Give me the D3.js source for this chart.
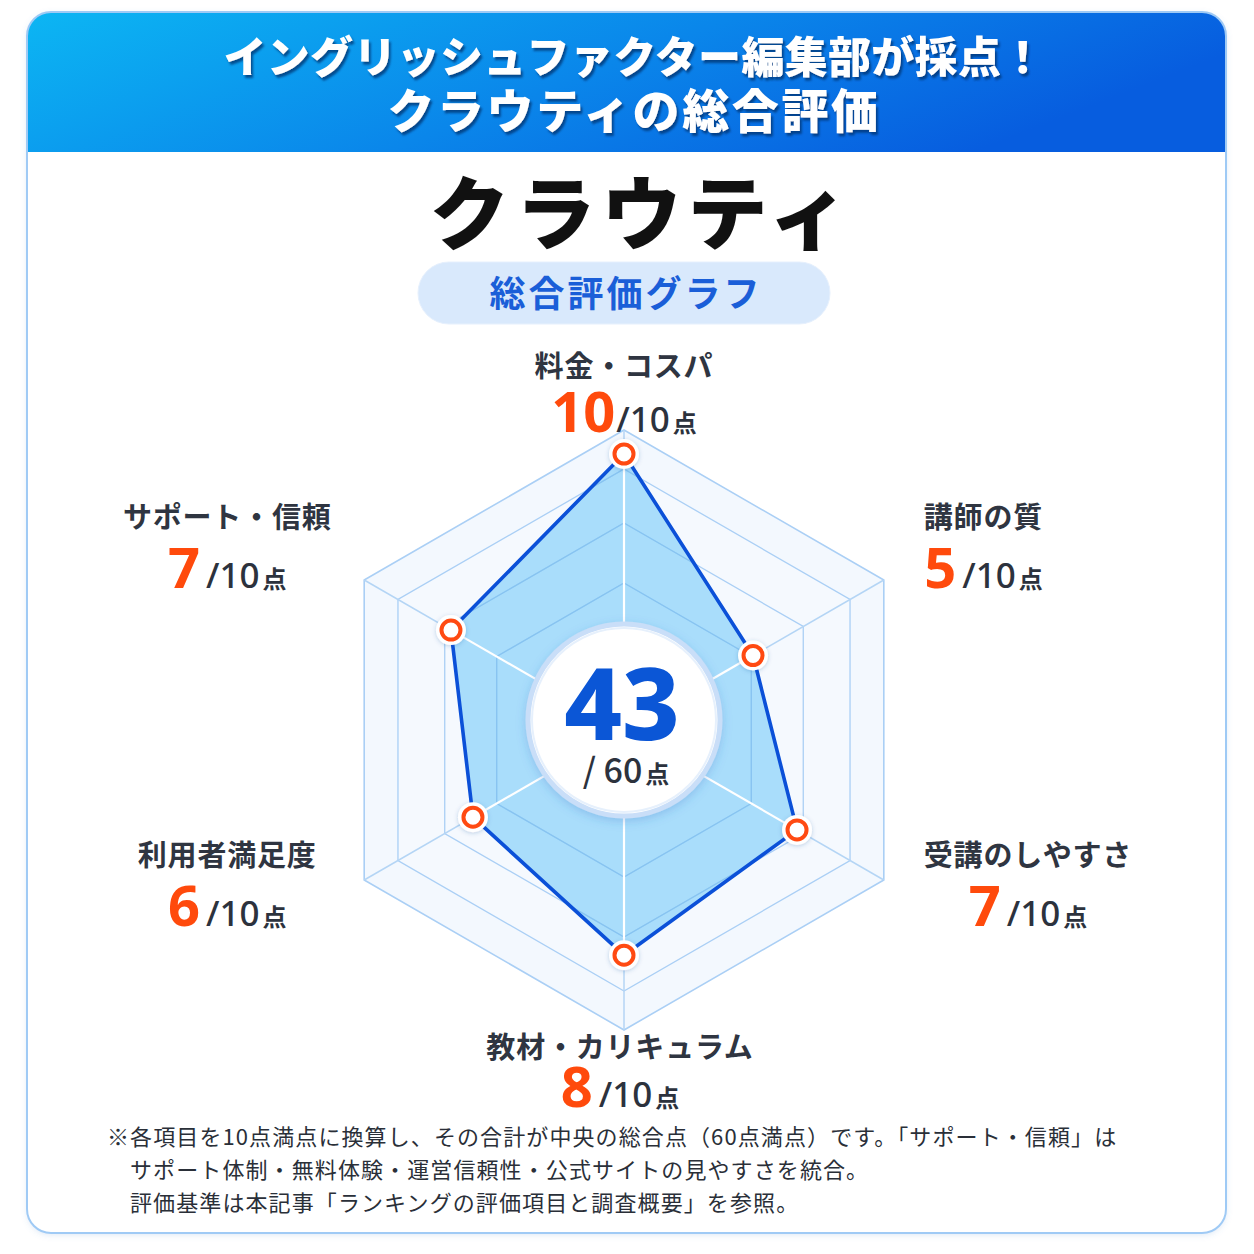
<!DOCTYPE html>
<html lang="ja">
<head>
<meta charset="utf-8">
<script src="https://cdn.jsdelivr.net/npm/d3@7"></script>
<style>
  html, body { margin: 0; padding: 0; background: #ffffff; }
  svg { display: block; font-family: "Noto Sans CJK JP", "Noto Sans", sans-serif; }
</style>
</head>
<body>
<svg id="chart" width="1254" height="1254"></svg>
<script>
// ---------- data ----------
const headerLines = ["イングリッシュファクター編集部が採点！", "クラウティの総合評価"];
const titleText = "クラウティ";
const subtitleText = "総合評価グラフ";
const categories = ["料金・コスパ", "講師の質", "受講のしやすさ", "教材・カリキュラム", "利用者満足度", "サポート・信頼"];
const scores = [10, 5, 7, 8, 6, 7];
const maxScore = 10;
const totalMax = 60;
const pointUnit = "点";
const footnotes = [
  "※各項目を10点満点に換算し、その合計が中央の総合点（60点満点）です。「サポート・信頼」は",
  "サポート体制・無料体験・運営信頼性・公式サイトの見やすさを統合。",
  "評価基準は本記事「ランキングの評価項目と調査概要」を参照。"
];

// ---------- layout ----------
const svg = d3.select("#chart");
const W = 1254;
const cx = 624, cy = 730, R = 300;
const total = d3.sum(scores);

const defs = svg.append("defs");
const hg = defs.append("linearGradient").attr("id", "hdr").attr("x1", 0).attr("y1", 0).attr("x2", 1).attr("y2", 0.3);
hg.append("stop").attr("offset", "0%").attr("stop-color", "#0cb6f3");
hg.append("stop").attr("offset", "55%").attr("stop-color", "#0a86ea");
hg.append("stop").attr("offset", "100%").attr("stop-color", "#075ddf");

const ts = defs.append("filter").attr("id", "tshadow").attr("x", "-10%").attr("y", "-30%").attr("width", "120%").attr("height", "160%");
ts.append("feDropShadow").attr("dx", 2).attr("dy", 3).attr("stdDeviation", 1.2).attr("flood-color", "#06306e").attr("flood-opacity", 0.75);

const cs = defs.append("filter").attr("id", "cshadow").attr("x", "-30%").attr("y", "-30%").attr("width", "160%").attr("height", "160%");
cs.append("feDropShadow").attr("dx", 0).attr("dy", 3).attr("stdDeviation", 5).attr("flood-color", "#2a6bc4").attr("flood-opacity", 0.25);

const ps = defs.append("filter").attr("id", "pshadow").attr("x", "-50%").attr("y", "-50%").attr("width", "200%").attr("height", "200%");
ps.append("feDropShadow").attr("dx", 0).attr("dy", 1).attr("stdDeviation", 2).attr("flood-color", "#1d4f9a").attr("flood-opacity", 0.25);

const cardS = defs.append("filter").attr("id", "cardshadow").attr("x", "-5%").attr("y", "-5%").attr("width", "110%").attr("height", "110%");
cardS.append("feDropShadow").attr("dx", 0).attr("dy", 2).attr("stdDeviation", 3).attr("flood-color", "#5a8fd0").attr("flood-opacity", 0.2);

// card
const cardX = 27, cardY = 12, cardW = 1199, cardH = 1221, cardR = 24, hdrH = 140;
svg.append("rect").attr("x", cardX).attr("y", cardY).attr("width", cardW).attr("height", cardH)
  .attr("rx", cardR).attr("fill", "#ffffff").attr("filter", "url(#cardshadow)");
const hdrPath = d3.path();
hdrPath.moveTo(cardX, cardY + hdrH);
hdrPath.lineTo(cardX, cardY + cardR);
hdrPath.arcTo(cardX, cardY, cardX + cardR, cardY, cardR);
hdrPath.lineTo(cardX + cardW - cardR, cardY);
hdrPath.arcTo(cardX + cardW, cardY, cardX + cardW, cardY + cardR, cardR);
hdrPath.lineTo(cardX + cardW, cardY + hdrH);
hdrPath.closePath();
svg.append("path").attr("d", hdrPath.toString()).attr("fill", "url(#hdr)");
svg.append("rect").attr("x", cardX).attr("y", cardY).attr("width", cardW).attr("height", cardH)
  .attr("rx", cardR).attr("fill", "none").attr("stroke", "#9fcaf5").attr("stroke-width", 2);

// header text
const hdrFont = [43, 47];
const hdrBase = [73, 128];
const hdrSpacing = [0.3, 2.6];
headerLines.forEach((t, i) => {
  svg.append("text").attr("x", W / 2 + 7).attr("y", hdrBase[i]).attr("text-anchor", "middle")
    .attr("font-size", hdrFont[i]).attr("font-weight", 900).attr("letter-spacing", hdrSpacing[i])
    .attr("fill", "#ffffff").attr("filter", "url(#tshadow)").text(t);
});

// title
svg.append("text").attr("x", 642).attr("y", 243).attr("text-anchor", "middle")
  .attr("font-size", 80).attr("font-weight", 900).attr("letter-spacing", 6)
  .attr("fill", "#111111").text(titleText);

// pill
svg.append("rect").attr("x", 418).attr("y", 262).attr("width", 412).attr("height", 62).attr("rx", 31)
  .attr("fill", "#d9e9fc").attr("stroke", "#e6f0fd").attr("stroke-width", 1);
svg.append("text").attr("x", 626).attr("y", 307).attr("text-anchor", "middle")
  .attr("font-size", 36).attr("font-weight", 700).attr("letter-spacing", 3)
  .attr("fill", "#1a5ed8").text(subtitleText);

// ---------- radar ----------
const n = categories.length;
const angle = d3.scaleLinear().domain([0, n]).range([0, 2 * Math.PI]);
const rScale = d3.scaleLinear().domain([0, maxScore]).range([22, 276]);
const pt = (i, r) => [cx + r * Math.sin(angle(i)), cy - r * Math.cos(angle(i))];
const ringFractions = [1, 0.87, 0.69, 0.49, 0.29];
const line = d3.line().curve(d3.curveLinearClosed);

const g = svg.append("g");
g.append("path").attr("d", line(d3.range(n).map(i => pt(i, R)))).attr("fill", "#f3f8fe");
g.append("path").attr("d", line(d3.range(n).map(i => pt(i, R * 0.87)))).attr("fill", "#f5f9fe");
ringFractions.forEach(f => {
  g.append("path").attr("d", line(d3.range(n).map(i => pt(i, R * f))))
    .attr("fill", "none").attr("stroke", "#aacff5").attr("stroke-width", f === 1 ? 1.6 : 1.3);
});
d3.range(n).forEach(i => {
  const [x, y] = pt(i, R);
  g.append("line").attr("x1", cx).attr("y1", cy).attr("x2", x).attr("y2", y)
    .attr("stroke", "#b4d5f5").attr("stroke-width", 1.5);
});
const dataPts = scores.map((v, i) => pt(i, rScale(v)));
g.append("path").attr("d", line(dataPts)).attr("fill", "#8fd3fa").attr("fill-opacity", 0.75);
const clip = defs.append("clipPath").attr("id", "dclip");
clip.append("path").attr("d", line(dataPts));
const inner = g.append("g").attr("clip-path", "url(#dclip)");
ringFractions.forEach(f => {
  inner.append("path").attr("d", line(d3.range(n).map(i => pt(i, R * f))))
    .attr("fill", "none").attr("stroke", "#88c3f0").attr("stroke-width", 1.2);
});
dataPts.forEach(([x, y]) => {
  g.append("line").attr("x1", cx).attr("y1", cy).attr("x2", x).attr("y2", y)
    .attr("stroke", "#ffffff").attr("stroke-width", 2.2);
});
g.append("path").attr("d", line(dataPts)).attr("fill", "none")
  .attr("stroke", "#0b50d8").attr("stroke-width", 3.6).attr("stroke-linejoin", "round");

dataPts.forEach(([x, y]) => {
  g.append("circle").attr("cx", x).attr("cy", y).attr("r", 15).attr("fill", "#ffffff").attr("filter", "url(#pshadow)");
  g.append("circle").attr("cx", x).attr("cy", y).attr("r", 9.5).attr("fill", "#ffffff")
    .attr("stroke", "#ff4a12").attr("stroke-width", 4);
});

// center circle
const ccY = 720;
g.append("circle").attr("cx", cx).attr("cy", ccY).attr("r", 96).attr("fill", "#ffffff")
  .attr("stroke", "#c9def8").attr("stroke-width", 5).attr("filter", "url(#cshadow)");
g.append("circle").attr("cx", cx).attr("cy", ccY).attr("r", 92).attr("fill", "none")
  .attr("stroke", "#e6f0fc").attr("stroke-width", 2);
g.append("text").attr("x", cx - 2).attr("y", 740).attr("text-anchor", "middle")
  .attr("font-family", "'Noto Sans', 'Open Sans', sans-serif")
  .attr("font-size", 100).attr("font-weight", 800)
  .attr("fill", "#0b56d6").text(total);
const sub = g.append("text").attr("x", cx + 2).attr("y", 783).attr("text-anchor", "middle")
  .attr("fill", "#2c323d");
sub.append("tspan").attr("font-size", 34).attr("font-weight", 500).text("/ " + totalMax);
sub.append("tspan").attr("font-size", 24).attr("font-weight", 700).attr("dx", 3).text(pointUnit);

// ---------- labels ----------
function scoreText(sel, v) {
  sel.append("tspan").attr("font-size", 56).attr("font-weight", 700).attr("fill", "#ff4a0c")
    .attr("font-family", "'Noto Sans', sans-serif").text(v);
  sel.append("tspan").attr("font-size", 35).attr("font-weight", 500).attr("fill", "#2c323d").attr("dx", v >= 10 ? 1 : 6)
    .attr("font-family", "'Noto Sans', sans-serif").text("/" + maxScore);
  sel.append("tspan").attr("font-size", 24).attr("font-weight", 700).attr("fill", "#2c323d").attr("dx", 3)
    .text(pointUnit);
}
categories.forEach((c, i) => {
  const [vx, vy] = pt(i, R);
  let lx, ly, sy, anchor = "middle";
  if (i === 0) { lx = cx; ly = vy - 53; sy = vy + 2; }
  else if (i === 3) { lx = cx - 4; ly = vy + 28; sy = vy + 77; }
  else {
    const right = vx > cx;
    const upper = vy < cy;
    ly = upper ? vy - 52 : vy - 14;
    sy = ly + 60;
    lx = right ? vx + 40 : vx - 137;
    anchor = right ? "start" : "middle";
  }
  const lab = svg.append("text").attr("x", lx).attr("y", ly).attr("text-anchor", anchor)
    .attr("font-size", 29).attr("font-weight", 700).attr("letter-spacing", 0.8).attr("fill", "#2f3541").text(c);
  let scx = lx;
  if (anchor === "start") {
    const w = lab.node().getComputedTextLength();
    scx = lx + w / 2;
  }
  const st = svg.append("text").attr("x", scx).attr("y", sy).attr("text-anchor", "middle");
  scoreText(st, scores[i]);
});

// ---------- footnotes ----------
const fnX = [107, 130, 130];
footnotes.forEach((t, i) => {
  svg.append("text").attr("x", fnX[i]).attr("y", 1145 + i * 33)
    .attr("font-size", 22).attr("font-weight", 400).attr("letter-spacing", 1.1)
    .attr("fill", "#2a2f38").text(t);
});
</script>
</body>
</html>
